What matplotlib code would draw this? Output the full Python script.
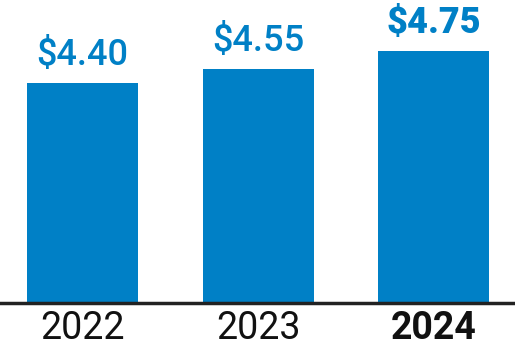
import matplotlib
matplotlib.use("Agg")
import matplotlib.pyplot as plt

years = ["2022", "2023", "2024"]
values = [4.40, 4.55, 4.75]
labels = ["$4.40", "$4.55", "$4.75"]
label_weights = ["medium", "medium", "heavy"]
year_weights = ["normal", "normal", "bold"]

blue = "#0080c6"
plt.rcParams["font.family"] = ["Roboto", "DejaVu Sans"]

fig = plt.figure(figsize=(5.15, 3.46), dpi=100)
ax = fig.add_axes([0, 0.124, 1, 0.876])

x = range(len(years))
ax.bar(x, values, width=0.634, color=blue)
ax.set_ylim(2.014, 5.30)
ax.set_xlim(-0.471, 2.463)

for i, (v, lab, w) in enumerate(zip(values, labels, label_weights)):
    ax.annotate(lab, (i, v), xytext=(0, 13), textcoords="offset points",
                ha="center", va="baseline", fontsize=26, color=blue, fontweight=w)

ax.set_xticks(list(x))
ax.set_xticklabels(years, fontsize=27, color="#111111")
for t, w in zip(ax.get_xticklabels(), year_weights):
    t.set_fontweight(w)
ax.tick_params(axis="x", length=0, pad=5)
ax.set_yticks([])
for s in ["top", "left", "right"]:
    ax.spines[s].set_visible(False)
ax.spines["bottom"].set_linewidth(2.5)
ax.spines["bottom"].set_color("#222222")

fig.savefig("out.png", dpi=100)
